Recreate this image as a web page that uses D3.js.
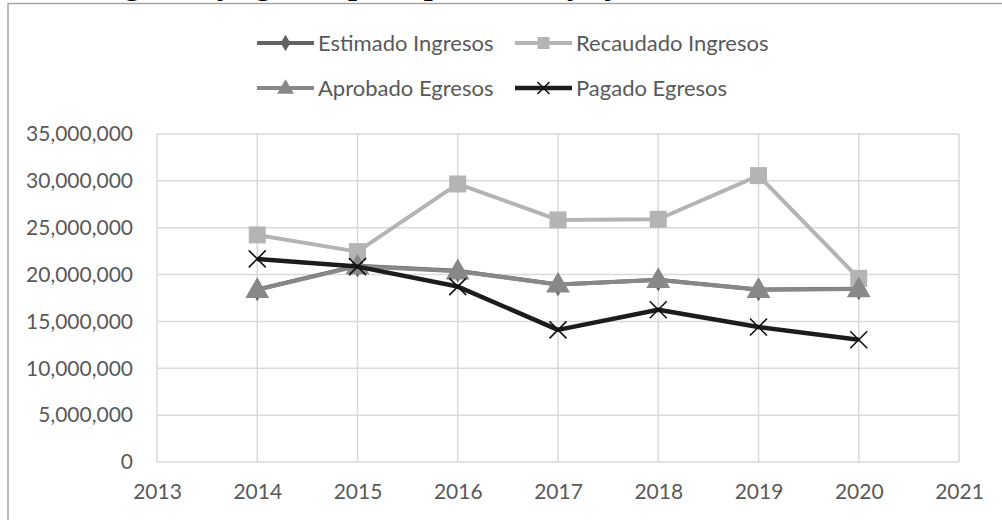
<!DOCTYPE html>
<html>
<head>
<meta charset="utf-8">
<script src="https://cdn.jsdelivr.net/npm/d3@7"></script>
<style>
  body { margin: 0; background: #fff; }
  svg { display: block; }
  .tick text { font-family: Lato, "Open Sans", sans-serif; fill: #595959; }
</style>
</head>
<body>
<div id="chart"></div>
<script>
// data
var years = [2014, 2015, 2016, 2017, 2018, 2019, 2020];
var estimadoIngresos  = [18400000, 20950000, 20400000, 18950000, 19450000, 18400000, 18500000];
var recaudadoIngresos = [24230000, 22450000, 29670000, 25830000, 25900000, 30560000, 19600000];
var aprobadoEgresos   = [18370000, 20900000, 20350000, 18950000, 19430000, 18380000, 18450000];
var pagadoEgresos     = [21670000, 20850000, 18720000, 14100000, 16240000, 14400000, 13050000];
var yTicks = [0, 5000000, 10000000, 15000000, 20000000, 25000000, 30000000, 35000000];
var xTicks = [2013, 2014, 2015, 2016, 2017, 2018, 2019, 2020, 2021];

var series = [
  {name: "Estimado Ingresos",  values: estimadoIngresos,  color: "#636363", marker: "diamond"},
  {name: "Recaudado Ingresos", values: recaudadoIngresos, color: "#b4b4b4", marker: "square"},
  {name: "Aprobado Egresos",   values: aprobadoEgresos,   color: "#888888", marker: "triangle"},
  {name: "Pagado Egresos",     values: pagadoEgresos,     color: "#1c1c1c", marker: "cross"}
];

var width = 1002, height = 520;
var font = "Lato, 'Open Sans', sans-serif";

var svg = d3.select("#chart").append("svg")
    .attr("width", width)
    .attr("height", height);

// title, mostly cut off at the top of the picture (only descenders show)
svg.append("text")
    .attr("x", 94)
    .attr("y", -6)
    .attr("font-family", "'Liberation Serif', serif")
    .attr("font-weight", "bold")
    .attr("font-size", 32)
    .text("Ingresos y egresos presupuestados y ejercidos de la entidad, 2014-2020");

// chart border
svg.append("rect")
    .attr("x", 8).attr("y", 3.5)
    .attr("width", 1000).attr("height", 530)
    .attr("fill", "#fff")
    .attr("stroke", "#a6a6a6")
    .attr("stroke-width", 1.5);

var x = d3.scaleLinear().domain([2013, 2021]).range([157, 959]);
var y = d3.scaleLinear().domain([0, 35000000]).range([462, 134]);

// gridlines
svg.append("g")
    .selectAll("line.h")
    .data(yTicks)
    .join("line")
    .attr("x1", x(2013)).attr("x2", x(2021))
    .attr("y1", d => y(d)).attr("y2", d => y(d))
    .attr("stroke", "#d9d9d9")
    .attr("stroke-width", 1.5);

svg.append("g")
    .selectAll("line.v")
    .data(xTicks)
    .join("line")
    .attr("x1", d => x(d)).attr("x2", d => x(d))
    .attr("y1", y(0)).attr("y2", y(35000000))
    .attr("stroke", "#d9d9d9")
    .attr("stroke-width", 1.5);

// axes (labels only)
var yAxis = svg.append("g")
    .attr("transform", "translate(" + 157 + ",0)")
    .call(d3.axisLeft(y).tickValues(yTicks).tickFormat(d3.format(",")).tickSize(0).tickPadding(24));
yAxis.select(".domain").remove();
yAxis.selectAll("text").attr("font-size", 21).attr("font-family", font);

var xAxis = svg.append("g")
    .attr("transform", "translate(0," + 462 + ")")
    .call(d3.axisBottom(x).tickValues(xTicks).tickFormat(d3.format("d")).tickSize(0).tickPadding(22));
xAxis.select(".domain").remove();
xAxis.selectAll("text").attr("font-size", 21).attr("font-family", font);

function drawMarker(g, type, color, size) {
  if (type === "cross") {
    g.append("path")
      .attr("d", "M" + (-size) + "," + (-size) + "L" + size + "," + size +
                 "M" + (-size) + "," + size + "L" + size + "," + (-size))
      .attr("stroke", "#111").attr("stroke-width", 1.6).attr("fill", "none");
    return;
  }
  var sym = type === "diamond" ? d3.symbolDiamond : type === "square" ? d3.symbolSquare : d3.symbolTriangle;
  var area = type === "square" ? (2 * size) * (2 * size) : type === "triangle" ? size * size * 3.4 : size * size * 2.2;
  g.append("path")
    .attr("d", d3.symbol().type(sym).size(area)())
    .attr("transform", type === "triangle" ? "translate(0," + (size * 0.15) + ")" : null)
    .attr("fill", color);
}

var line = d3.line()
    .x((d, i) => x(years[i]))
    .y(d => y(d));

series.forEach(function (s) {
  var g = svg.append("g").attr("class", "series");
  g.append("path")
    .datum(s.values)
    .attr("d", line)
    .attr("fill", "none")
    .attr("stroke", s.color)
    .attr("stroke-width", s.marker === "cross" ? 4.5 : 4)
    .attr("stroke-linejoin", "round");
  s.values.forEach(function (v, i) {
    var m = g.append("g").attr("transform", "translate(" + x(years[i]) + "," + y(v) + ")");
    drawMarker(m, s.marker, s.color, 8.5);
  });
});

// legend
var legendPos = [
  {x: 257, y: 43}, {x: 515, y: 43},
  {x: 257, y: 88}, {x: 515, y: 88}
];

series.forEach(function (s, i) {
  var p = legendPos[i];
  var lg = svg.append("g").attr("transform", "translate(" + p.x + "," + p.y + ")");
  lg.append("line")
    .attr("x1", 0).attr("x2", 57)
    .attr("stroke", s.color)
    .attr("stroke-width", s.marker === "cross" ? 4.5 : 4);
  var m = lg.append("g").attr("transform", "translate(28.5,0)");
  drawMarker(m, s.marker, s.color, 6);
  lg.append("text")
    .attr("x", 61)
    .attr("dy", "0.35em")
    .attr("font-family", font)
    .attr("font-size", 22)
    .attr("fill", "#595959")
    .text(s.name);
});
</script>
</body>
</html>
